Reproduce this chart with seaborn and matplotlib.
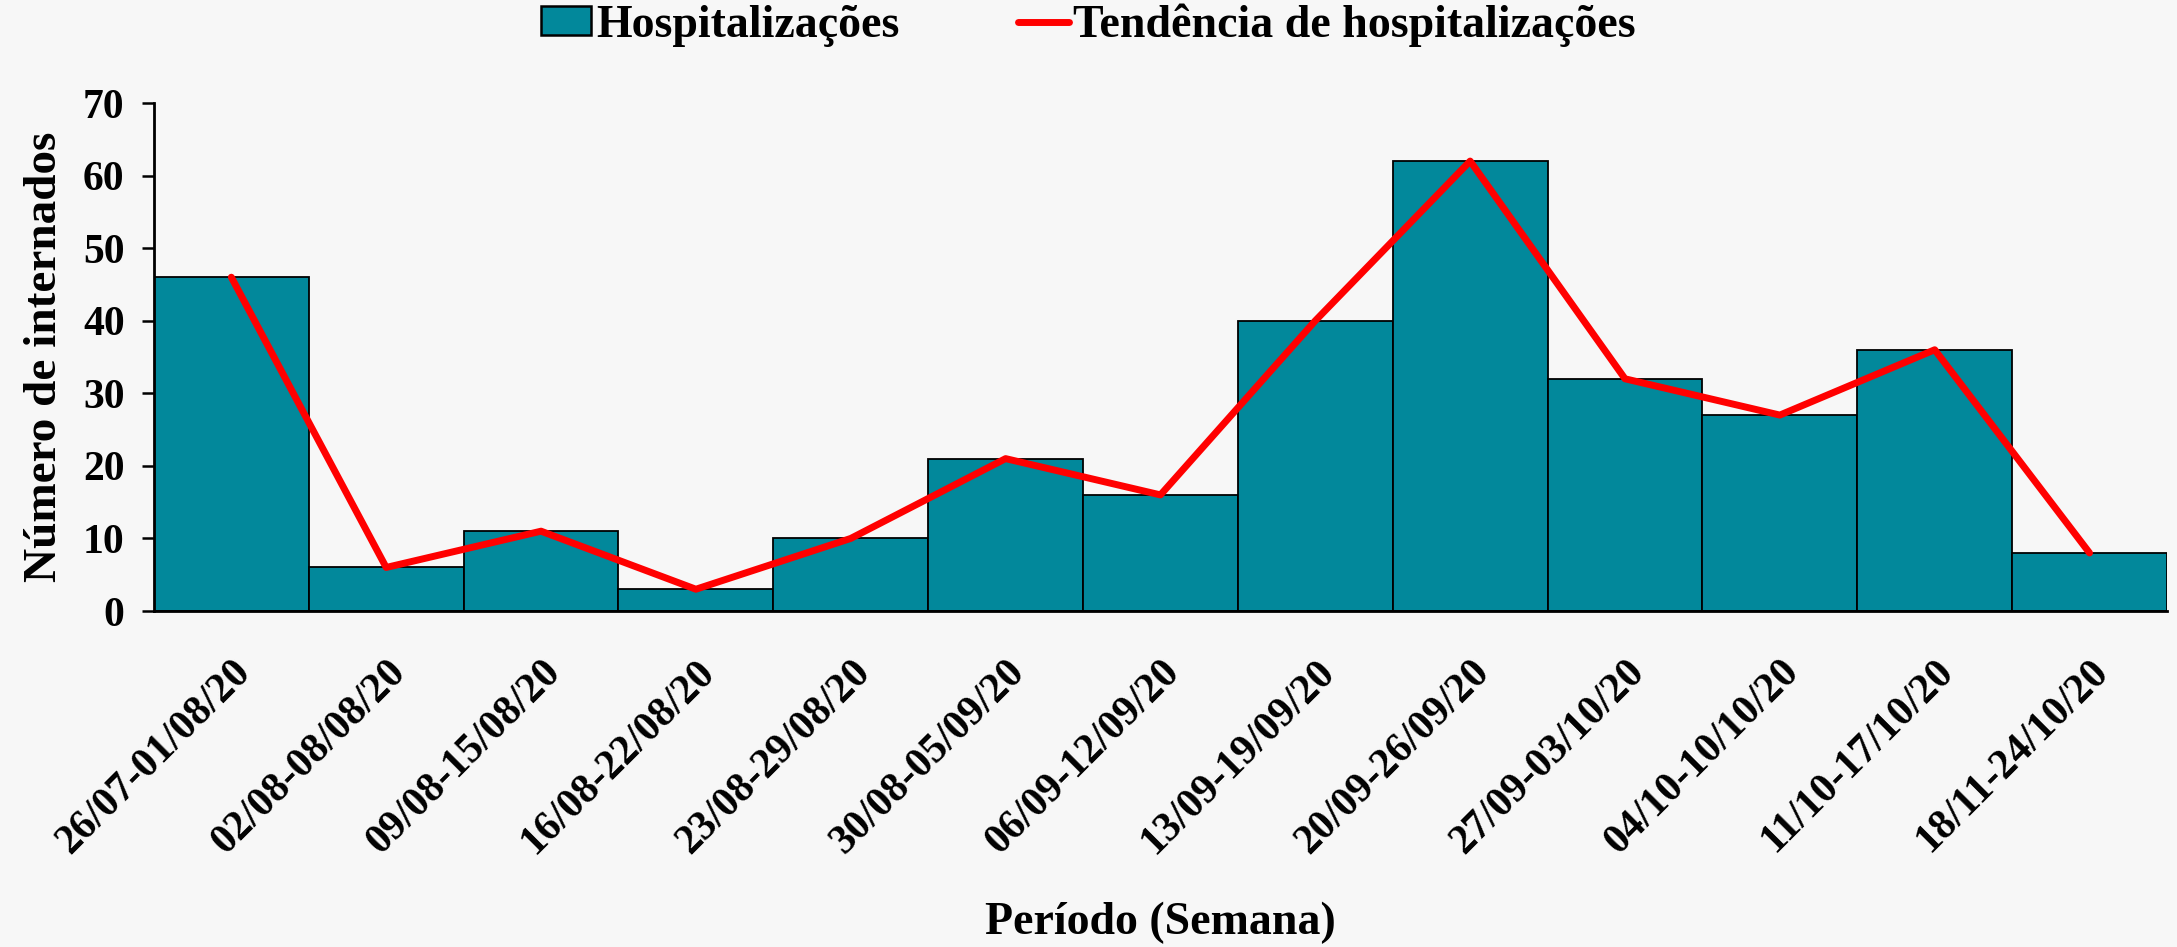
import numpy as np
import pandas as pd
import matplotlib
matplotlib.use('Agg')
import matplotlib.pyplot as plt
import seaborn as sns
from matplotlib.patches import Patch
from matplotlib.lines import Line2D

# weekly hospitalisations
periods = ['26/07-01/08/20', '02/08-08/08/20', '09/08-15/08/20', '16/08-22/08/20',
           '23/08-29/08/20', '30/08-05/09/20', '06/09-12/09/20', '13/09-19/09/20',
           '20/09-26/09/20', '27/09-03/10/20', '04/10-10/10/20', '11/10-17/10/20',
           '18/11-24/10/20']
hospitalizations = [46, 6, 11, 3, 10, 21, 16, 40, 62, 32, 27, 36, 8]
trend = [46, 6, 11, 3, 10, 21, 16, 40, 62, 32, 27, 36, 8]
y_ticks = [0, 10, 20, 30, 40, 50, 60, 70]

bar_color = '#02889b'
bg = '#f7f7f7'

sns.set_style('ticks')
plt.rcParams['font.family'] = ['Liberation Serif', 'DejaVu Serif']
plt.rcParams['font.weight'] = 'bold'
plt.rcParams['text.color'] = 'black'
plt.rcParams['xtick.color'] = 'black'
plt.rcParams['ytick.color'] = 'black'
plt.rcParams['axes.labelcolor'] = 'black'

df = pd.DataFrame({'Período': periods, 'Hospitalizações': hospitalizations, 'Tendência': trend})

fig = plt.figure(figsize=(21.77, 9.47), dpi=100, facecolor=bg)
ax = fig.add_axes([0.0707, 0.3548, 0.9247, 0.5364])
ax.set_facecolor(bg)

sns.barplot(data=df, x='Período', y='Hospitalizações', color=bar_color, width=1.0,
            edgecolor='black', linewidth=1.3, saturation=1, ax=ax)
sns.pointplot(data=df, x='Período', y='Tendência', color='#ff0000', marker='',
              linewidth=5, errorbar=None, ax=ax)

ax.set_xlim(-0.5, len(periods) - 0.5)
ax.set_ylim(0, 70)
ax.set_yticks(y_ticks)
ax.tick_params(axis='y', labelsize=30, length=9, width=1.8, pad=12)
ax.tick_params(axis='x', length=0, pad=30)
plt.setp(ax.get_xticklabels(), rotation=45, ha='right', rotation_mode='anchor',
         fontsize=30, fontweight='bold')
for lbl in ax.get_yticklabels():
    lbl.set_fontweight('bold')
for s in ['top', 'right']:
    ax.spines[s].set_visible(False)
for s in ['left', 'bottom']:
    ax.spines[s].set_linewidth(2)
    ax.spines[s].set_color('black')

ax.set_ylabel('Número de internados', fontsize=34, fontweight='bold', labelpad=12)
ax.set_xlabel('Período (Semana)', fontsize=33, fontweight='bold')
ax.xaxis.set_label_coords(0.5, -0.572)

handles = [Patch(facecolor=bar_color, edgecolor='black', linewidth=1.8),
           Line2D([0], [0], color='#ff0000', linewidth=5)]
fig.legend(handles, ['Hospitalizações', 'Tendência de hospitalizações'], loc='upper center',
           bbox_to_anchor=(0.5, 1.04), ncol=2, frameon=False, fontsize=33,
           handlelength=1.1, handleheight=0.6, handletextpad=0.1, columnspacing=2.6)

fig.savefig('out.png', dpi=100, facecolor=bg)
